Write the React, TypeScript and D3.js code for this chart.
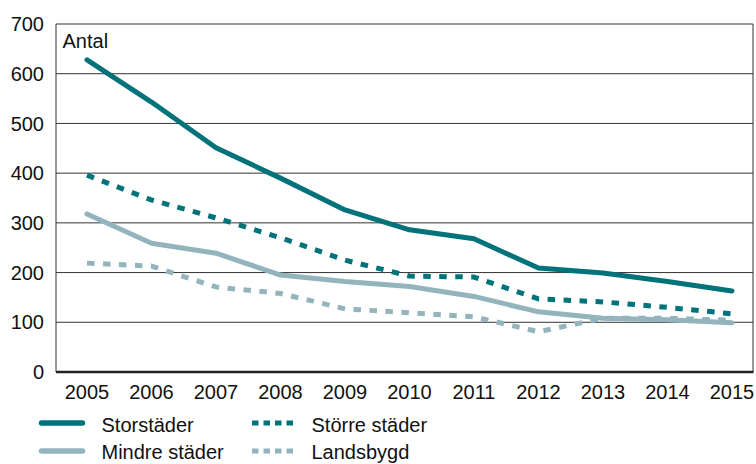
import React from "react";
import * as d3 from "d3";

const years = ["2005","2006","2007","2008","2009","2010","2011","2012","2013","2014","2015"];
const yTicks = [0,100,200,300,400,500,600,700];
const storstader = [628,543,451,390,326,286,268,209,199,182,163];
const storreStader = [396,346,310,270,225,193,191,147,141,130,117];
const mindreStader = [318,259,239,195,182,172,152,121,108,105,99];
const landsbygd = [219,213,171,158,127,119,111,81,108,108,104];

const DARK = "#00727a";
const LIGHT = "#94b4bd";

const series = [
  { name: "Storstäder", values: storstader, color: DARK, dashed: false },
  { name: "Större städer", values: storreStader, color: DARK, dashed: true },
  { name: "Mindre städer", values: mindreStader, color: LIGHT, dashed: false },
  { name: "Landsbygd", values: landsbygd, color: LIGHT, dashed: true },
];

export default function App() {
  const W = 756, H = 464;
  const left = 56, right = 753, top = 24, bottom = 372;
  const x = d3.scalePoint<string>().domain(years).range([87, 732]);
  const y = d3.scaleLinear().domain([0, 700]).range([bottom, top]);
  const line = d3.line<number>().x((_, i) => x(years[i]) as number).y((d) => y(d));
  const font = "'Liberation Sans', Arial, Helvetica, sans-serif";
  // draw order: light first, then dark
  const order = [series[3], series[2], series[1], series[0]];
  const legend = [
    { s: series[0], lx: 39, tx: 101.5, ly: 423, ty: 431.5 },
    { s: series[2], lx: 39, tx: 101.5, ly: 451, ty: 458.5 },
    { s: series[1], lx: 252, tx: 311.5, ly: 423, ty: 431.5 },
    { s: series[3], lx: 252, tx: 311.5, ly: 451, ty: 458.5 },
  ];
  return (
    <svg width={W} height={H} style={{ position: "absolute", left: 0, top: 0, background: "#fff" }} fontFamily={font}>
      {yTicks.filter((t) => t > 0).map((t) => (
        <line key={t} x1={left} x2={right} y1={y(t)} y2={y(t)} stroke="#333" strokeWidth={1} />
      ))}
      <line x1={left} x2={left} y1={top} y2={bottom} stroke="#333" strokeWidth={1} />
      <line x1={right} x2={right} y1={top} y2={bottom} stroke="#333" strokeWidth={1} />
      <line x1={left} x2={right + 0.5} y1={bottom} y2={bottom} stroke="#222" strokeWidth={2.5} />
      {yTicks.map((t) => (
        <text key={t} x={44} y={y(t)} dy="0.36em" textAnchor="end" fontSize={20} fill="#111">{t}</text>
      ))}
      {years.map((yr) => (
        <text key={yr} x={x(yr)} y={399} textAnchor="middle" fontSize={20} fill="#111">{yr}</text>
      ))}
      <text x={62.5} y={48} fontSize={20} fill="#111">Antal</text>
      {order.map((s) => (
        <path key={s.name} d={line(s.values) || ""} fill="none" stroke={s.color} strokeWidth={5}
          strokeLinecap={s.dashed ? "butt" : "round"} strokeLinejoin="round"
          strokeDasharray={s.dashed ? "7.5,8.5" : undefined} />
      ))}
      {legend.map(({ s, lx, tx, ly, ty }) => (
        <g key={s.name}>
          <line x1={lx + (s.dashed ? 0 : 2.5)} x2={lx + (s.dashed ? 41 : 43.5)} y1={ly} y2={ly} stroke={s.color} strokeWidth={s.dashed ? 5 : 5.5}
            strokeLinecap={s.dashed ? "butt" : "round"} strokeDasharray={s.dashed ? "6.5,5" : undefined} />
          <text x={tx} y={ty} fontSize={20} fill="#111">{s.name}</text>
        </g>
      ))}
    </svg>
  );
}
